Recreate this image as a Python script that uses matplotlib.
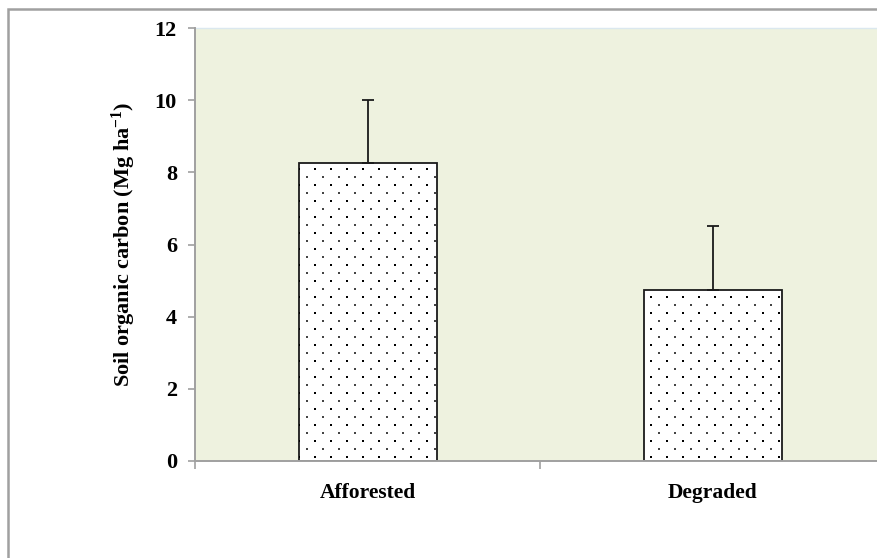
import numpy as np
import matplotlib
matplotlib.use('Agg')
import matplotlib.pyplot as plt
from matplotlib.patches import Rectangle

# Data
sites = ['Afforested', 'Degraded']
soc = [8.25, 4.75]
soc_err = [1.75, 1.75]

dpi = 100
fig = plt.figure(figsize=(877/dpi, 558/dpi), dpi=dpi)
plt.rcParams['font.family'] = ['Liberation Serif', 'DejaVu Serif']
plt.rcParams['mathtext.fontset'] = 'custom'
plt.rcParams['mathtext.bf'] = 'Liberation Serif:bold'
plt.rcParams['mathtext.rm'] = 'Liberation Serif'

# outer chart frame (Excel style), runs off the right and bottom edges
fig.patches.append(Rectangle((8/877, -0.1), 1.2, 1.1 - 9.5/558, transform=fig.transFigure,
                             fill=False, edgecolor='#a0a0a0', linewidth=1.8))

ax_w, ax_h = 690, 433
ax = fig.add_axes([195/877, 97/558, ax_w/877, ax_h/558])
ax.set_facecolor('#eef2df')

x = np.arange(len(sites))
bars = ax.bar(x, soc, width=0.40, color='white', edgecolor='#1a1a1a', linewidth=1.3, zorder=2)
ax.errorbar(x, soc, yerr=[np.zeros(len(soc)), soc_err], fmt='none', ecolor='#1a1a1a',
            elinewidth=1.3, capsize=4, capthick=1.3, zorder=3)

# dotted fill: big dots on a 16 px grid, small dots in between, clipped to each bar
gx = np.arange(0, ax_w, 16) / ax_w
gy = np.arange(0, ax_h, 16) / ax_h
bx, by = np.meshgrid(gx + 8/ax_w, gy + 4/ax_h)
sx, sy = np.meshgrid(gx, gy + 12/ax_h)
for b in bars:
    c1 = ax.scatter(bx.ravel(), by.ravel(), s=2.6, c='black', marker='s', linewidths=0,
                    transform=ax.transAxes, zorder=2.5)
    c2 = ax.scatter(sx.ravel(), sy.ravel(), s=0.8, c='#444444', marker='s', linewidths=0,
                    transform=ax.transAxes, zorder=2.5)
    c1.set_clip_path(b)
    c2.set_clip_path(b)

ax.set_xlim(-0.5, 1.5)
ax.set_ylim(0, 12)
ax.set_yticks(range(0, 13, 2))
ax.set_xticks([-0.5, 0.5, 1.5])
ax.set_xticklabels([])
ax.set_xticks(x, minor=True)
ax.set_xticklabels(sites, minor=True, fontsize=15.5, fontweight='bold')
ax.tick_params(axis='x', which='minor', length=0, pad=16)
ax.tick_params(axis='x', which='major', length=6, width=1.2, color='#a0a0a0')
ax.tick_params(axis='y', length=5, width=1.2, color='#a0a0a0', labelsize=16, pad=8)
for lab in ax.get_yticklabels():
    lab.set_fontweight('bold')

ax.spines['right'].set_visible(False)
ax.spines['top'].set_color('#dbe8ef')
ax.spines['top'].set_linewidth(1.0)
for s in ['left', 'bottom']:
    ax.spines[s].set_color('#a0a0a0')
    ax.spines[s].set_linewidth(1.4)
    ax.spines[s].set_zorder(3)

ax.set_ylabel('Soil organic carbon (Mg ha$\\mathbf{^{-1}}$)', fontsize=16, fontweight='bold', labelpad=12)

plt.savefig('out.png', dpi=dpi)
plt.close()
